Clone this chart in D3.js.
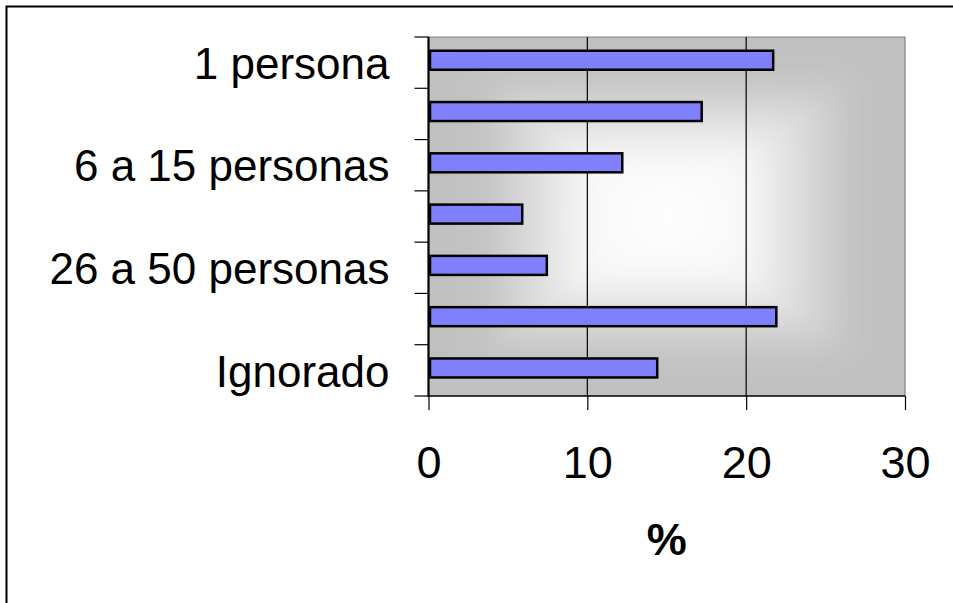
<!DOCTYPE html>
<html>
<head>
<meta charset="utf-8">
<script src="https://cdn.jsdelivr.net/npm/d3@7"></script>
<style>
  html, body { margin: 0; padding: 0; background: #ffffff; }
  svg { display: block; font-family: Arial, "Liberation Sans", sans-serif; }
</style>
</head>
<body>
<svg id="chart" width="953" height="603"></svg>
<script>
// ---- data ----
const categories = ["1 persona", "2 a 5 personas", "6 a 15 personas", "16 a 25 personas",
                    "26 a 50 personas", "Más de 50 personas", "Ignorado"];
const values = [21.7, 17.2, 12.2, 5.9, 7.45, 21.9, 14.4];
const xTicks = [0, 10, 20, 30];
const xTitle = "%";

// ---- layout ----
const W = 953, H = 603;
const plot = { left: 428.5, right: 905, top: 37, bottom: 396 };

const svg = d3.select("#chart");

// outer frame
svg.append("rect")
  .attr("x", 6.5).attr("y", 6.5)
  .attr("width", W + 20).attr("height", H + 20)
  .attr("fill", "#ffffff").attr("stroke", "#000").attr("stroke-width", 2);

const x = d3.scaleLinear().domain([0, 30]).range([plot.left, plot.right]);
const y = d3.scaleBand().domain(categories).range([plot.top, plot.bottom]).paddingInner(0).paddingOuter(0);

// ---- background: rectangular "from centre" gradient ----
const defs = svg.append("defs");
defs.append("clipPath").attr("id", "plotClip")
  .append("rect")
  .attr("x", plot.left).attr("y", plot.top)
  .attr("width", plot.right - plot.left).attr("height", plot.bottom - plot.top);
defs.append("filter").attr("id", "soft")
  .attr("x", "-20%").attr("y", "-20%").attr("width", "140%").attr("height", "140%")
  .append("feGaussianBlur").attr("stdDeviation", 14);

const cx = (plot.left + plot.right) / 2, cy = (plot.top + plot.bottom) / 2;
const gStops = [
  { o: 0, c: "#c0c0c0" },
  { o: 0.22, c: "#c2c2c2" },
  { o: 0.68, c: "#f8f8f8" },
  { o: 1, c: "#ffffff" }
];
const pad = 40;
const X0 = plot.left - pad, X1 = plot.right + pad, Y0 = plot.top - pad, Y1 = plot.bottom + pad;
// effective gradient start (edge of plot)
const tris = [
  { id: "gL", pts: [[X0, Y0], [X0, Y1], [cx, cy]], g: [plot.left, cy, cx, cy] },
  { id: "gR", pts: [[X1, Y0], [X1, Y1], [cx, cy]], g: [plot.right, cy, cx, cy] },
  { id: "gT", pts: [[X0, Y0], [X1, Y0], [cx, cy]], g: [cx, plot.top, cx, cy] },
  { id: "gB", pts: [[X0, Y1], [X1, Y1], [cx, cy]], g: [cx, plot.bottom, cx, cy] }
];
tris.forEach(t => {
  const lg = defs.append("linearGradient").attr("id", t.id)
    .attr("gradientUnits", "userSpaceOnUse")
    .attr("x1", t.g[0]).attr("y1", t.g[1]).attr("x2", t.g[2]).attr("y2", t.g[3]);
  gStops.forEach(s => lg.append("stop").attr("offset", s.o).attr("stop-color", s.c));
});

const bgOuter = svg.append("g").attr("clip-path", "url(#plotClip)");
bgOuter.append("rect")
  .attr("x", plot.left).attr("y", plot.top)
  .attr("width", plot.right - plot.left).attr("height", plot.bottom - plot.top)
  .attr("fill", "#c0c0c0");
const bgInner = bgOuter.append("g").attr("filter", "url(#soft)");
bgInner.selectAll("path").data(tris).enter().append("path")
  .attr("d", d => "M" + d.pts.map(p => p.join(",")).join("L") + "Z")
  .attr("fill", d => "url(#" + d.id + ")");

// plot border (top/right grey)
svg.append("path")
  .attr("d", `M${plot.left},${plot.top}H${plot.right}V${plot.bottom}`)
  .attr("fill", "none").attr("stroke", "#808080").attr("stroke-width", 1.2);

// gridlines
svg.append("g").selectAll("line")
  .data(xTicks.filter(v => v > 0 && v < 30))
  .enter().append("line")
  .attr("x1", d => x(d)).attr("x2", d => x(d))
  .attr("y1", plot.top).attr("y2", plot.bottom)
  .attr("stroke", "#000").attr("stroke-width", 1.2);

// bars
const barH = 19;
svg.append("g").selectAll("rect")
  .data(values)
  .enter().append("rect")
  .attr("x", x(0) + 1.5)
  .attr("y", (d, i) => y(categories[i]) + y.bandwidth() / 2 - barH / 2 - 2.4)
  .attr("width", d => x(d) - x(0) - 1.5)
  .attr("height", barH)
  .attr("fill", "#8080ff")
  .attr("stroke", "#000")
  .attr("stroke-width", 2.5);

// y axis
const yAxis = d3.axisLeft(y).tickSize(0).tickFormat((d, i) => (i % 2 === 0 ? d : ""));
const yg = svg.append("g").attr("transform", `translate(${plot.left},0)`).call(yAxis);
yg.select(".domain").remove();
yg.selectAll("text")
  .attr("x", -39).attr("dy", "0.37em")
  .attr("font-size", 44).attr("fill", "#000")
  .attr("font-family", "Arial, 'Liberation Sans', sans-serif");
// y tick marks at category boundaries
const yBounds = categories.map(c => y(c)).concat([plot.bottom]);
svg.append("g").selectAll("line").data(yBounds).enter().append("line")
  .attr("x1", plot.left - 14).attr("x2", plot.left)
  .attr("y1", d => d).attr("y2", d => d)
  .attr("stroke", "#000").attr("stroke-width", 1.2);

// x axis
const xAxis = d3.axisBottom(x).tickValues(xTicks).tickSize(14).tickPadding(0).tickFormat(d3.format("d"));
const xg = svg.append("g").attr("transform", `translate(0,${plot.bottom})`).call(xAxis);
xg.select(".domain").remove();
xg.selectAll(".tick line").attr("stroke", "#000").attr("stroke-width", 1.2);
xg.selectAll("text")
  .attr("y", 82).attr("dy", 0)
  .attr("font-size", 45).attr("fill", "#000")
  .attr("font-family", "Arial, 'Liberation Sans', sans-serif");

// axis lines
svg.append("line")
  .attr("x1", plot.left).attr("x2", plot.right)
  .attr("y1", plot.bottom).attr("y2", plot.bottom)
  .attr("stroke", "#000").attr("stroke-width", 1.5);
svg.append("line")
  .attr("x1", plot.left).attr("x2", plot.left)
  .attr("y1", plot.top).attr("y2", plot.bottom + 1)
  .attr("stroke", "#000").attr("stroke-width", 2.2);

// x title
svg.append("text")
  .attr("x", (plot.left + plot.right) / 2).attr("y", 555)
  .attr("text-anchor", "middle")
  .attr("font-size", 45).attr("font-weight", "bold").attr("fill", "#000")
  .text(xTitle);
</script>
</body>
</html>
